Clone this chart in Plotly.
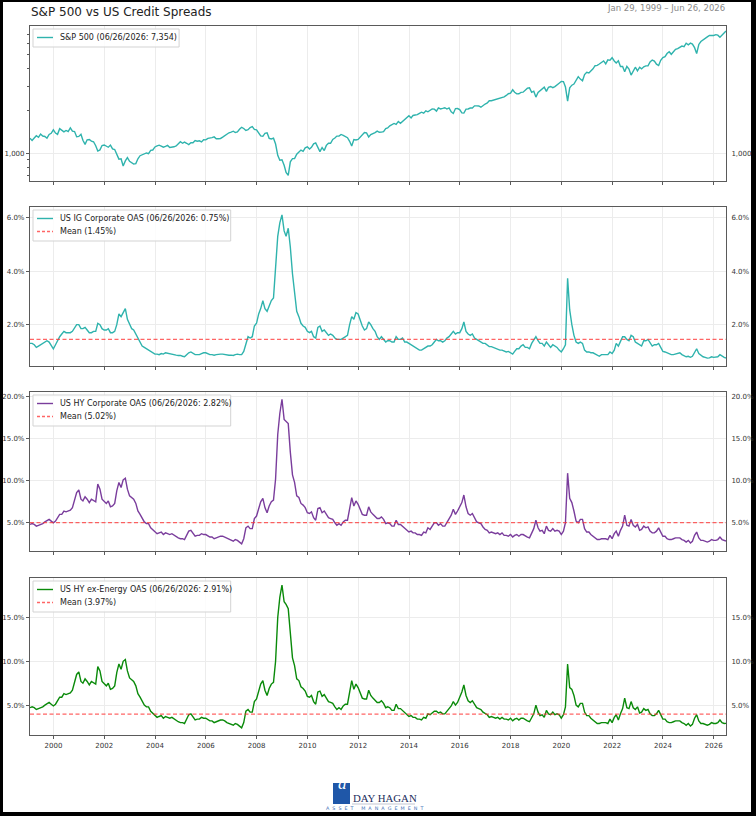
import math
import pandas as pd
import plotly.graph_objects as go

# ---------------- data (monthly) ----------------
START = "1999-01-29"
END = "2026-06-26"

spx = [
    1280, 1238, 1286, 1335, 1302, 1373, 1329, 1320, 1283, 1363, 1389, 1469,
    1394, 1366, 1499, 1452, 1421, 1455, 1431, 1518, 1437, 1429, 1315, 1320,
    1366, 1240, 1160, 1249, 1256, 1224, 1211, 1134, 1041, 1060, 1139, 1148,
    1130, 1107, 1147, 1077, 1067, 990, 912, 916, 815, 886, 936, 880,
    856, 841, 848, 917, 964, 975, 990, 1008, 996, 1051, 1058, 1112,
    1131, 1145, 1126, 1107, 1121, 1141, 1102, 1104, 1115, 1130, 1174, 1212,
    1181, 1204, 1181, 1157, 1192, 1191, 1234, 1220, 1229, 1207, 1249, 1248,
    1280, 1281, 1295, 1311, 1270, 1270, 1277, 1304, 1336, 1378, 1401, 1418,
    1438, 1407, 1421, 1482, 1531, 1503, 1455, 1474, 1527, 1549, 1481, 1468,
    1379, 1331, 1323, 1386, 1400, 1280, 1267, 1283, 1166, 969, 896, 903,
    826, 735, 700, 873, 919, 919, 987, 1021, 1057, 1036, 1096, 1115,
    1074, 1104, 1169, 1187, 1089, 1031, 1102, 1049, 1141, 1183, 1181, 1258,
    1286, 1327, 1326, 1364, 1345, 1321, 1292, 1219, 1131, 1253, 1247, 1258,
    1312, 1366, 1408, 1398, 1310, 1362, 1379, 1407, 1441, 1412, 1416, 1426,
    1498, 1515, 1569, 1598, 1631, 1606, 1686, 1633, 1682, 1757, 1806, 1848,
    1783, 1859, 1872, 1884, 1924, 1960, 1931, 2003, 1972, 2018, 2068, 2059,
    1995, 2105, 2068, 2086, 2107, 2063, 2104, 1972, 1920, 2079, 2080, 2044,
    1940, 1932, 2060, 2065, 2097, 2099, 2174, 2171, 2168, 2126, 2199, 2239,
    2279, 2364, 2363, 2384, 2412, 2423, 2470, 2472, 2519, 2575, 2648, 2674,
    2824, 2714, 2641, 2648, 2705, 2718, 2816, 2902, 2914, 2712, 2760, 2507,
    2704, 2784, 2834, 2946, 2752, 2942, 2980, 2926, 2977, 3038, 3141, 3231,
    3226, 2954, 2350, 2912, 3044, 3100, 3271, 3500, 3363, 3270, 3622, 3756,
    3714, 3811, 3973, 4181, 4204, 4298, 4395, 4523, 4308, 4605, 4567, 4766,
    4516, 4374, 4530, 4132, 4132, 3785, 4130, 3955, 3586, 3872, 4080, 3840,
    4077, 3970, 4109, 4169, 4180, 4450, 4589, 4508, 4288, 4194, 4568, 4770,
    4846, 5096, 5254, 5036, 5278, 5460, 5522, 5648, 5762, 5705, 6032, 5882,
    6041, 5955, 5612, 5100, 5912, 6205, 6339, 6460, 6688, 6840, 6849, 6845,
    6940, 6880, 6650, 6900, 7150, 7354,
]

ig_oas = [
    1.30, 1.30, 1.25, 1.15, 1.20, 1.25, 1.30, 1.35, 1.40, 1.35, 1.20, 1.10,
    1.25, 1.40, 1.55, 1.65, 1.75, 1.70, 1.70, 1.70, 1.75, 1.90, 2.00, 2.00,
    1.85, 1.85, 1.90, 1.80, 1.70, 1.70, 1.75, 1.75, 2.05, 2.00, 1.85, 1.80,
    1.80, 1.85, 1.70, 1.70, 1.75, 2.00, 2.40, 2.30, 2.45, 2.60, 2.20, 2.00,
    1.85, 1.80, 1.65, 1.45, 1.30, 1.20, 1.15, 1.10, 1.05, 1.00, 0.95, 0.90,
    0.90, 0.88, 0.92, 0.90, 0.95, 0.93, 0.90, 0.90, 0.88, 0.86, 0.85, 0.85,
    0.82, 0.80, 0.88, 0.95, 0.98, 0.92, 0.88, 0.88, 0.88, 0.92, 0.95, 0.95,
    0.90, 0.88, 0.88, 0.86, 0.88, 0.90, 0.90, 0.90, 0.88, 0.86, 0.86, 0.86,
    0.85, 0.88, 0.90, 0.88, 0.88, 1.00, 1.30, 1.55, 1.50, 1.55, 1.95, 2.05,
    2.40, 2.60, 2.90, 2.60, 2.50, 2.70, 2.90, 3.00, 4.00, 5.30, 5.80, 6.10,
    5.50, 5.30, 5.60, 4.90, 3.90, 3.20, 2.50, 2.30, 2.05, 1.95, 1.90, 1.75,
    1.70, 1.75, 1.55, 1.50, 1.90, 1.95, 1.75, 1.80, 1.70, 1.60, 1.65, 1.60,
    1.50, 1.45, 1.45, 1.45, 1.50, 1.55, 1.60, 2.00, 2.30, 2.20, 2.45, 2.40,
    2.15, 1.95, 1.80, 1.85, 2.10, 2.00, 1.85, 1.75, 1.55, 1.45, 1.55, 1.45,
    1.35, 1.40, 1.40, 1.35, 1.35, 1.55, 1.45, 1.45, 1.50, 1.35, 1.35, 1.30,
    1.25, 1.20, 1.15, 1.10, 1.05, 1.05, 1.10, 1.15, 1.20, 1.20, 1.25, 1.35,
    1.45, 1.40, 1.40, 1.35, 1.40, 1.50, 1.55, 1.65, 1.75, 1.65, 1.70, 1.70,
    1.85, 2.10, 1.75, 1.65, 1.60, 1.65, 1.50, 1.45, 1.40, 1.35, 1.30, 1.30,
    1.25, 1.18, 1.18, 1.15, 1.10, 1.10, 1.05, 1.05, 1.02, 0.98, 1.00, 0.95,
    0.90, 1.00, 1.10, 1.10, 1.20, 1.25, 1.15, 1.15, 1.10, 1.30, 1.45, 1.55,
    1.40, 1.30, 1.30, 1.20, 1.35, 1.25, 1.15, 1.25, 1.20, 1.15, 1.05, 0.98,
    1.10, 1.25, 3.73, 2.55, 2.00, 1.60, 1.35, 1.30, 1.35, 1.30, 1.05, 0.98,
    0.98, 0.95, 0.95, 0.90, 0.88, 0.82, 0.88, 0.88, 0.86, 0.88, 0.98, 0.92,
    1.05, 1.30, 1.20, 1.35, 1.55, 1.55, 1.45, 1.40, 1.60, 1.55, 1.35, 1.30,
    1.25, 1.20, 1.40, 1.40, 1.45, 1.30, 1.20, 1.25, 1.25, 1.30, 1.15, 1.00,
    0.98, 0.95, 0.90, 0.88, 0.88, 0.90, 0.93, 0.95, 0.88, 0.85, 0.80, 0.82,
    0.78, 0.82, 0.95, 1.10, 0.92, 0.85, 0.80, 0.78, 0.75, 0.76, 0.80, 0.78,
    0.78, 0.80, 0.88, 0.82, 0.78, 0.75,
]

hy_oas = [
    4.8, 4.9, 4.8, 4.6, 4.7, 4.8, 4.9, 5.1, 5.3, 5.4, 5.2, 5.0,
    5.2, 5.6, 6.0, 6.0, 6.4, 6.3, 6.4, 6.5, 6.8, 7.6, 8.6, 8.9,
    7.8, 7.6, 8.1, 7.8, 7.4, 7.8, 7.6, 7.5, 9.6, 9.0, 7.8, 7.6,
    7.3, 7.6, 6.9, 7.0, 7.3, 8.8, 9.8, 9.2, 10.1, 10.3, 9.0, 8.2,
    8.0, 7.8, 7.3, 6.4, 6.0, 5.6, 5.1, 4.9, 4.9, 4.4, 4.2, 3.9,
    3.7, 3.8, 3.9, 3.6, 3.8, 3.7, 3.6, 3.7, 3.5, 3.4, 3.2, 3.1,
    3.1, 3.0, 3.5, 4.0, 4.1, 3.7, 3.4, 3.5, 3.5, 3.7, 3.6, 3.6,
    3.4, 3.3, 3.3, 3.1, 3.2, 3.3, 3.4, 3.4, 3.3, 3.1, 3.0, 2.9,
    2.8, 3.0, 2.9, 2.7, 2.5, 3.1, 4.4, 4.6, 4.3, 4.3, 5.5, 5.8,
    6.8, 7.5, 7.9, 6.8, 6.2, 7.0, 7.5, 7.7, 10.2, 15.5, 18.0, 19.7,
    17.3, 17.0, 16.8, 13.4, 10.7, 9.8, 8.2, 8.0, 7.3, 7.1, 6.8, 6.2,
    6.1, 6.3, 5.6, 5.3, 6.7, 6.8, 6.2, 6.4, 6.0, 5.6, 5.5, 5.4,
    5.0, 4.7, 4.9, 4.7, 5.1, 5.3, 5.3, 6.9, 8.0, 7.0, 7.6, 7.2,
    6.6, 6.0, 5.9, 5.9, 6.9, 6.3, 6.0, 5.7, 5.5, 5.5, 5.7, 5.4,
    4.9, 5.0, 4.9, 4.6, 4.6, 5.3, 4.8, 4.8, 4.6, 4.3, 4.2, 3.9,
    4.0, 3.8, 3.8, 3.6, 3.6, 3.5, 3.9, 3.8, 4.4, 4.2, 4.6, 5.0,
    5.0, 4.7, 4.9, 4.6, 4.6, 5.0, 5.4, 5.9, 6.6, 6.0, 6.4, 7.0,
    7.4, 8.3, 6.9, 6.1, 5.9, 6.1, 5.6, 5.1, 5.0, 4.9, 4.5, 4.2,
    4.1, 3.8, 3.9, 3.8, 3.7, 3.8, 3.6, 3.8, 3.5, 3.5, 3.4, 3.6,
    3.3, 3.5, 3.6, 3.4, 3.6, 3.6, 3.4, 3.3, 3.2, 3.8, 4.3, 5.3,
    4.4, 4.0, 4.1, 3.7, 4.6, 4.1, 4.0, 4.3, 4.0, 4.1, 4.0, 3.6,
    4.0, 5.0, 10.9, 7.9, 7.4, 6.4, 5.2, 5.0, 5.4, 5.4, 4.3, 3.9,
    3.9, 3.6, 3.4, 3.2, 3.0, 3.0, 3.1, 3.1, 3.1, 3.0, 3.5, 3.1,
    3.7, 4.0, 3.4, 4.1, 4.6, 5.9, 4.7, 4.6, 5.4, 4.7, 4.5, 4.8,
    4.1, 4.2, 4.6, 4.4, 4.5, 4.0, 3.8, 3.8, 4.0, 4.4, 3.8, 3.4,
    3.4, 3.1, 3.0, 3.0, 3.1, 3.2, 3.2, 3.2, 3.0, 2.9, 2.7, 2.9,
    2.6, 2.8, 3.5, 3.9, 3.2, 2.9, 2.9, 2.8, 2.7, 2.8, 3.0, 2.9,
    2.9, 3.0, 3.3, 3.0, 2.9, 2.82,
]

hy_ex_energy = [
    4.7, 4.8, 4.7, 4.5, 4.6, 4.7, 4.8, 5.0, 5.2, 5.3, 5.1, 4.9,
    5.1, 5.5, 5.9, 5.9, 6.3, 6.2, 6.3, 6.4, 6.7, 7.5, 8.5, 8.8,
    7.7, 7.5, 8.0, 7.7, 7.3, 7.7, 7.5, 7.4, 9.4, 8.9, 7.7, 7.5,
    7.2, 7.5, 6.8, 6.9, 7.2, 8.7, 9.7, 9.1, 10.0, 10.2, 8.9, 8.1,
    7.9, 7.7, 7.2, 6.3, 5.9, 5.5, 5.0, 4.8, 4.8, 4.3, 4.1, 3.8,
    3.6, 3.7, 3.8, 3.5, 3.7, 3.6, 3.5, 3.6, 3.4, 3.3, 3.1, 3.0,
    3.0, 2.9, 3.4, 3.9, 4.0, 3.6, 3.3, 3.4, 3.4, 3.6, 3.5, 3.5,
    3.3, 3.2, 3.2, 3.0, 3.1, 3.2, 3.3, 3.3, 3.2, 3.0, 2.9, 2.8,
    2.7, 2.9, 2.8, 2.6, 2.4, 3.0, 4.3, 4.5, 4.2, 4.2, 5.4, 5.7,
    6.7, 7.4, 7.8, 6.7, 6.1, 6.9, 7.4, 7.6, 10.0, 15.0, 17.3, 18.7,
    16.8, 16.5, 16.0, 12.9, 10.4, 9.5, 8.0, 7.8, 7.1, 6.9, 6.6, 6.0,
    5.9, 6.1, 5.4, 5.1, 6.5, 6.6, 6.0, 6.2, 5.8, 5.4, 5.3, 5.2,
    4.8, 4.5, 4.7, 4.5, 4.9, 5.1, 5.1, 6.7, 7.8, 6.8, 7.4, 7.0,
    6.4, 5.8, 5.7, 5.7, 6.7, 6.1, 5.8, 5.5, 5.3, 5.3, 5.5, 5.2,
    4.7, 4.8, 4.7, 4.4, 4.4, 5.1, 4.6, 4.6, 4.4, 4.1, 4.0, 3.7,
    3.8, 3.6, 3.6, 3.4, 3.4, 3.3, 3.6, 3.5, 4.0, 3.9, 4.1, 4.3,
    4.3, 4.1, 4.2, 4.0, 4.0, 4.3, 4.5, 4.9, 5.4, 5.0, 5.3, 5.9,
    6.5, 7.3, 6.1, 5.5, 5.3, 5.5, 5.1, 4.7, 4.6, 4.5, 4.2, 4.0,
    3.9, 3.6, 3.7, 3.6, 3.5, 3.6, 3.4, 3.6, 3.4, 3.4, 3.3, 3.5,
    3.2, 3.4, 3.5, 3.3, 3.5, 3.5, 3.3, 3.2, 3.1, 3.6, 4.0, 5.0,
    4.2, 3.8, 3.9, 3.6, 4.4, 4.0, 3.9, 4.2, 3.9, 4.0, 3.9, 3.5,
    3.9, 4.8, 9.7, 7.0, 6.8, 6.1, 5.0, 4.8, 5.2, 5.2, 4.2, 3.8,
    3.8, 3.5, 3.3, 3.1, 2.9, 2.9, 3.0, 3.0, 3.0, 2.9, 3.4, 3.0,
    3.6, 3.9, 3.3, 4.0, 4.6, 5.8, 4.7, 4.6, 5.4, 4.7, 4.5, 4.8,
    4.1, 4.2, 4.6, 4.4, 4.5, 4.0, 3.8, 3.8, 4.0, 4.4, 3.8, 3.4,
    3.4, 3.1, 3.0, 3.0, 3.1, 3.2, 3.2, 3.2, 3.0, 2.9, 2.7, 2.9,
    2.6, 2.8, 3.5, 3.9, 3.2, 2.9, 2.9, 2.8, 2.7, 2.8, 3.0, 2.9,
    2.9, 3.0, 3.3, 3.0, 2.9, 2.91,
]

mean_ig = 1.45
mean_hy = 5.02
mean_hyx = 3.97
last_date_label = "06/26/2026"
last_spx_label = "7,354"
last_ig_label = "0.75%"
last_hy_label = "2.82%"
last_hyx_label = "2.91%"

spx_ticks = [1000]
spx_minor_ticks = [700, 800, 900, 2000, 3000, 4000, 5000, 6000, 7000]
ig_ticks = [2, 4, 6]
hy_ticks = [5, 10, 15, 20]
hyx_ticks = [5, 10, 15]

# monthly date axis (first / last points are the actual start / end dates)
dates = list(pd.date_range("1999-01-31", "2026-06-30", freq="ME"))
dates[0] = pd.Timestamp(START)
dates[-1] = pd.Timestamp(END)

# ---------------- styling / geometry ----------------
TEAL = "#2fb3ad"
PURPLE = "#7a3d9c"
GREEN = "#0a8a0a"
MEANC = "rgba(255,50,50,0.75)"
FONT = "DejaVu Sans"
W, H = 756, 816
ML, MR, MT, MB = 30, 30, 26, 81
PW = W - ML - MR
PH = H - MT - MB


def py(px):
    return (H - MB - px) / PH


def pxx(px):
    return (px - ML) / PW


panels = [(26, 181), (207, 366), (392, 551), (578, 735)]
domains = [[py(b), py(t)] for t, b in panels]


def pad_range(vals, frac=0.05):
    lo, hi = min(vals), max(vals)
    s = hi - lo
    return [lo - frac * s, hi + frac * s]


fig = go.Figure()

fig.add_trace(go.Scatter(x=dates, y=spx, mode="lines", line=dict(color=TEAL, width=1.4),
                         name="S&P 500", xaxis="x", yaxis="y"))

series = [
    (ig_oas, TEAL, mean_ig, "x2", "y2"),
    (hy_oas, PURPLE, mean_hy, "x3", "y3"),
    (hy_ex_energy, GREEN, mean_hyx, "x4", "y4"),
]
for vals, col, mn, xa, ya in series:
    fig.add_trace(go.Scatter(x=dates, y=vals, mode="lines", line=dict(color=col, width=1.4),
                             xaxis=xa, yaxis=ya))
    fig.add_trace(go.Scatter(x=[dates[0], dates[-1]], y=[mn, mn], mode="lines",
                             line=dict(color=MEANC, width=1.1, dash="4px,2.5px"),
                             xaxis=xa, yaxis=ya))

# invisible traces so the right-hand mirror axes are drawn
for ya, xa, vals in [("y5", "x", spx), ("y6", "x2", ig_oas), ("y7", "x3", hy_oas), ("y8", "x4", hy_ex_energy)]:
    fig.add_trace(go.Scatter(x=[dates[0]], y=[vals[0]], mode="markers", marker=dict(opacity=0),
                             hoverinfo="skip", xaxis=xa, yaxis=ya))

spx_range = [math.log10(min(spx)) - 0.04, math.log10(max(spx)) + 0.036]
ranges = [spx_range, pad_range(ig_oas, 0.055), pad_range(hy_oas, 0.05), pad_range(hy_ex_energy, 0.05)]
tickvals = [spx_ticks, ig_ticks, hy_ticks, hyx_ticks]
ticktexts = [[f"{v:,}" for v in spx_ticks]] + [[f"{v:.1f}%" for v in t] for t in (ig_ticks, hy_ticks, hyx_ticks)]

GRID = "#ececec"
LINEC = "#5a5a5a"
tickfont = dict(family=FONT, size=7, color="#333")

layout = dict(
    width=W, height=H,
    margin=dict(l=ML, r=MR, t=MT, b=MB, autoexpand=False),
    paper_bgcolor="black",
    plot_bgcolor="white",
    font=dict(family=FONT, color="#333"),
    showlegend=False,
)

for i in range(4):
    xn = "xaxis" if i == 0 else f"xaxis{i + 1}"
    yn = "yaxis" if i == 0 else f"yaxis{i + 1}"
    anchor_y = "y" if i == 0 else f"y{i + 1}"
    anchor_x = "x" if i == 0 else f"x{i + 1}"
    xd = dict(
        domain=[0, 1], anchor=anchor_y, type="date", automargin=False,
        range=[START, END], showgrid=True, gridcolor=GRID, gridwidth=0.8,
        tick0="2000-01-01", dtick="M24", tickformat="%Y",
        ticks="outside", ticklen=3, tickcolor=LINEC, tickwidth=0.8,
        showticklabels=(i == 3), tickfont=tickfont,
        showline=True, linecolor=LINEC, linewidth=1.2, mirror=True, zeroline=False,
    )
    if i > 0:
        xd["matches"] = "x"
    layout[xn] = xd
    yd = dict(
        domain=domains[i], anchor=anchor_x, range=ranges[i], automargin=False,
        tickmode="array", tickvals=tickvals[i], ticktext=ticktexts[i],
        showgrid=True, gridcolor=GRID, gridwidth=0.8,
        ticks="outside", ticklen=3, tickcolor=LINEC, tickwidth=0.8, tickfont=tickfont,
        showline=True, linecolor=LINEC, linewidth=1.2, mirror=True, zeroline=False,
    )
    rd = dict(
        overlaying=anchor_y, side="right", anchor=anchor_x, automargin=False,
        range=ranges[i], tickmode="array", tickvals=tickvals[i], ticktext=ticktexts[i],
        showgrid=False, ticks="outside", ticklen=3, tickcolor="rgba(0,0,0,0)", tickwidth=0.8,
        tickfont=tickfont, zeroline=False, showline=False,
    )
    if i == 0:
        yd["type"] = "log"
        rd["type"] = "log"
        yd["minor"] = dict(tickmode="array", tickvals=spx_minor_ticks,
                           ticks="outside", ticklen=2, tickcolor=LINEC, showgrid=False)
    layout[yn] = yd
    layout[f"yaxis{i + 5}"] = rd

fig.update_layout(**layout)

# white page inside the black frame
fig.add_shape(type="rect", xref="paper", yref="paper", layer="below",
              x0=pxx(3), x1=pxx(751), y0=py(812), y1=py(2),
              fillcolor="white", line=dict(width=0))

# ---------------- manual matplotlib-style legends ----------------
legend_specs = [
    [(f"S&P 500 ({last_date_label}: {last_spx_label})", TEAL, "solid")],
    [(f"US IG Corporate OAS ({last_date_label}: {last_ig_label})", TEAL, "solid"),
     (f"Mean ({mean_ig:.2f}%)", MEANC, "dash")],
    [(f"US HY Corporate OAS ({last_date_label}: {last_hy_label})", PURPLE, "solid"),
     (f"Mean ({mean_hy:.2f}%)", MEANC, "dash")],
    [(f"US HY ex-Energy OAS ({last_date_label}: {last_hyx_label})", GREEN, "solid"),
     (f"Mean ({mean_hyx:.2f}%)", MEANC, "dash")],
]
CHARW = 4.3
ROWH = 13
for (top, bot), entries in zip(panels, legend_specs):
    bx0, by0 = 33, top + 3
    longest = max(len(t) for t, _, _ in entries)
    bx1 = 58 + longest * CHARW + 5
    by1 = by0 + 5 + ROWH * len(entries)
    fig.add_shape(type="rect", xref="paper", yref="paper",
                  x0=pxx(bx0), x1=pxx(bx1), y0=py(by1), y1=py(by0),
                  fillcolor="rgba(255,255,255,0.85)", line=dict(color="#d3d3d3", width=1))
    for k, (txt, col, dsh) in enumerate(entries):
        cy = by0 + 8.5 + ROWH * k
        fig.add_shape(type="line", xref="paper", yref="paper",
                      x0=pxx(37), x1=pxx(53), y0=py(cy), y1=py(cy),
                      line=dict(color=col, width=1.4, dash="3px,2px" if dsh == "dash" else "solid"))
        fig.add_annotation(text=txt, xref="paper", yref="paper", x=pxx(57.5), y=py(cy),
                           xanchor="left", yanchor="middle", showarrow=False,
                           font=dict(family=FONT, size=8, color="#222"))

# title and date range
fig.add_annotation(text="S&P 500 vs US Credit Spreads", xref="paper", yref="paper",
                   x=pxx(29), y=py(12), xanchor="left", yanchor="middle", showarrow=False,
                   font=dict(family=FONT, size=12, color="#222"))
fig.add_annotation(text="Jan 29, 1999 – Jun 26, 2026", xref="paper", yref="paper",
                   x=pxx(727), y=py(8), xanchor="right", yanchor="middle", showarrow=False,
                   font=dict(family=FONT, size=8.5, color="#8a8a8a"))

# logo
fig.add_shape(type="rect", xref="paper", yref="paper",
              x0=pxx(333), x1=pxx(350), y0=py(804), y1=py(783),
              fillcolor="#1f57a8", line=dict(width=0))
fig.add_annotation(text="<i>d</i>", xref="paper", yref="paper", x=pxx(342), y=py(795),
                   showarrow=False, font=dict(family="Liberation Serif", size=17, color="white"))
fig.add_annotation(text="DAY HAGAN", xref="paper", yref="paper", x=pxx(351), y=py(798),
                   xanchor="left", yanchor="middle", showarrow=False,
                   font=dict(family="Liberation Serif", size=10.8, color="#1b2d5c"))
fig.add_shape(type="line", xref="paper", yref="paper",
              x0=pxx(352), x1=pxx(415), y0=py(804), y1=py(804),
              line=dict(color="#9aa3b5", width=0.6))
NB = "\u00a0"
logo_sub = (NB * 2).join("ASSET") + NB * 5 + (NB * 2).join("MANAGEMENT")
fig.add_annotation(text=logo_sub, xref="paper", yref="paper",
                   x=pxx(374), y=py(808.5), xanchor="center", yanchor="middle", showarrow=False,
                   font=dict(family=FONT, size=4.8, color="#3d6fb6"))

fig.write_html("out.html")
